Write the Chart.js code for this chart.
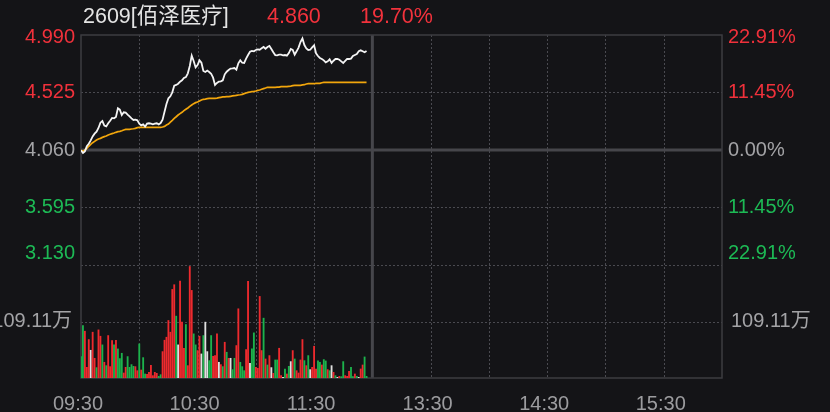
<!DOCTYPE html>
<html>
<head>
<meta charset="utf-8">
<script src="https://cdn.jsdelivr.net/npm/chart.js@4.4.1/dist/chart.umd.min.js"></script>
<style>
  html, body { margin: 0; padding: 0; background: #141417; overflow: hidden; }
  #wrap { position: relative; width: 830px; height: 412px; }
  canvas { display: block; }
  .hd { position: absolute; top: 2px; font: 21.5px "Liberation Sans", Arial, "Noto Sans CJK SC", sans-serif; line-height: 28px; white-space: nowrap; }
</style>
</head>
<body>
<div id="wrap">
  <canvas id="chart" width="830" height="412"></canvas>
  <span class="hd" style="left:83px;color:#e4e4e4">2609[佰泽医疗]</span>
  <span class="hd" style="left:267px;color:#f2323c">4.860</span>
  <span class="hd" style="left:360px;color:#f2323c">19.70%</span>
</div>
<script>
// minute-by-minute intraday data, 09:30 onwards
const price = [
  4.057, 4.036, 4.049, 4.090, 4.111, 4.138, 4.170, 4.192, 4.208, 4.238,
  4.281, 4.294, 4.257, 4.251, 4.276, 4.297, 4.319, 4.316, 4.327, 4.397,
  4.386, 4.343, 4.365, 4.362, 4.346, 4.332, 4.316, 4.303, 4.305, 4.300,
  4.273, 4.259, 4.267, 4.249, 4.273, 4.276, 4.273, 4.267, 4.273, 4.276,
  4.267, 4.278, 4.305, 4.370, 4.432, 4.478, 4.494, 4.526, 4.580, 4.586,
  4.596, 4.613, 4.623, 4.642, 4.650, 4.680, 4.739, 4.823, 4.780, 4.728,
  4.747, 4.785, 4.766, 4.699, 4.691, 4.702, 4.691, 4.677, 4.645, 4.586,
  4.602, 4.613, 4.615, 4.623, 4.672, 4.693, 4.707, 4.718, 4.720, 4.723,
  4.710, 4.761, 4.785, 4.766, 4.764, 4.799, 4.828, 4.855, 4.861, 4.858,
  4.869, 4.874, 4.871, 4.882, 4.893, 4.879, 4.893, 4.901, 4.877, 4.850,
  4.828, 4.826, 4.831, 4.831, 4.826, 4.828, 4.823, 4.844, 4.877, 4.869,
  4.831, 4.858, 4.888, 4.933, 4.962, 4.909, 4.882, 4.869, 4.871, 4.890,
  4.906, 4.842, 4.820, 4.804, 4.796, 4.785, 4.769, 4.777, 4.793, 4.764,
  4.782, 4.796, 4.796, 4.790, 4.777, 4.764, 4.780, 4.796, 4.796, 4.799,
  4.820, 4.828, 4.836, 4.858, 4.866, 4.858, 4.850, 4.860
];

const avgPrice = [
  4.057, 4.049, 4.060, 4.073, 4.090, 4.106, 4.119, 4.130, 4.141, 4.149,
  4.154, 4.162, 4.168, 4.173, 4.181, 4.187, 4.192, 4.197, 4.203, 4.208,
  4.211, 4.216, 4.222, 4.227, 4.227, 4.227, 4.230, 4.232, 4.235, 4.241,
  4.243, 4.243, 4.243, 4.243, 4.243, 4.243, 4.243, 4.243, 4.243, 4.243,
  4.243, 4.243, 4.246, 4.251, 4.262, 4.270, 4.286, 4.300, 4.316, 4.329,
  4.343, 4.354, 4.365, 4.378, 4.389, 4.400, 4.413, 4.424, 4.435, 4.443,
  4.448, 4.456, 4.464, 4.470, 4.472, 4.475, 4.478, 4.478, 4.478, 4.478,
  4.480, 4.483, 4.486, 4.489, 4.489, 4.491, 4.491, 4.494, 4.497, 4.499,
  4.502, 4.505, 4.507, 4.510, 4.516, 4.521, 4.526, 4.529, 4.532, 4.534,
  4.537, 4.542, 4.545, 4.551, 4.556, 4.561, 4.567, 4.567, 4.567, 4.567,
  4.567, 4.569, 4.569, 4.572, 4.572, 4.572, 4.572, 4.575, 4.577, 4.580,
  4.583, 4.583, 4.583, 4.583, 4.586, 4.588, 4.594, 4.596, 4.596, 4.596,
  4.596, 4.599, 4.599, 4.599, 4.604, 4.607, 4.607, 4.607, 4.607, 4.607,
  4.607, 4.607, 4.607, 4.607, 4.607, 4.607, 4.607, 4.607, 4.607, 4.607,
  4.607, 4.607, 4.607, 4.607, 4.607, 4.607, 4.607, 4.607
];

// volume in 万 shares
const volume = [
  42.0, 102.0, 91.0, 21.3, 74.9, 54.2, 89.1, 38.7, 20.7, 93.6,
  81.3, 64.6, 31.0, 24.5, 82.6, 22.6, 73.0, 64.6, 73.6, 56.8,
  38.1, 48.4, 10.3, 21.3, 42.0, 21.3, 26.5, 23.2, 22.6, 14.8,
  66.5, 16.1, 40.0, 8.4, 7.7, 11.6, 25.2, 5.2, 11.6, 9.7,
  3.9, 7.1, 51.6, 73.6, 79.4, 111.7, 89.1, 171.7, 180.8, 120.1,
  64.6, 187.9, 108.5, 58.1, 103.9, 24.5, 216.0, 169.8, 85.9, 64.6,
  53.6, 81.3, 47.1, 82.6, 108.5, 51.6, 34.2, 82.6, 42.6, 43.9,
  85.9, 31.0, 26.5, 22.6, 69.7, 50.4, 38.7, 38.7, 16.8, 38.7,
  63.3, 134.3, 31.0, 22.6, 14.8, 55.5, 187.2, 29.1, 56.8, 87.8,
  21.3, 19.4, 158.2, 53.6, 116.2, 37.4, 25.8, 43.9, 20.7, 9.7,
  35.5, 35.5, 58.1, 5.2, 1.9, 18.1, 8.4, 23.2, 32.3, 53.6,
  37.4, 14.8, 10.3, 35.5, 74.9, 34.2, 24.5, 43.9, 16.8, 21.3,
  62.0, 18.1, 33.6, 31.0, 25.8, 36.2, 33.6, 16.8, 14.8, 24.5,
  11.6, 5.2, 1.9, 3.9, 3.2, 32.3, 5.2, 3.9, 13.6, 21.3,
  3.2, 8.4, 3.9, 1.9, 18.1, 25.8, 41.3, 3.9
];

// 1 = up (red), -1 = down (green), 0 = flat (white)
const volumeDir = [
  -1, -1, 1, 1, 1, 0, 1, 1, -1, 1,
  1, -1, 1, -1, 1, 1, 1, -1, 1, -1,
  -1, -1, 1, 1, -1, -1, -1, -1, 1, 1,
  -1, 1, -1, -1, 1, 1, 1, 1, 1, 1,
  -1, -1, 1, 1, 1, 1, 1, 1, 1, -1,
  0, 1, 1, 1, -1, 1, 1, 1, -1, -1,
  1, 1, 0, -1, 0, 0, -1, -1, 1, 1,
  1, 0, 1, -1, 1, -1, 1, 0, -1, -1,
  1, 1, -1, -1, -1, 1, 1, 0, -1, -1,
  1, 1, 1, 1, -1, 1, -1, 1, 0, 1,
  -1, -1, 1, 1, 0, -1, 1, -1, 0, 1,
  -1, 1, 1, 1, 1, -1, 1, -1, 0, 1,
  1, 1, -1, -1, 1, -1, -1, 1, -1, 0,
  1, -1, 0, 1, -1, -1, 1, 1, 1, -1,
  -1, 1, -1, 0, 1, 1, -1, -1
];

const timeTickVals = [0, 60, 120, 180, 240, 300];
const timeLabels = ['09:30', '10:30', '11:30', '13:30', '14:30', '15:30'];
const gridMinutes = [30, 60, 90, 120, 180, 210, 240, 270, 300];
const middayMinute = 150;
const totalMinutes = 330;

const priceTicks = [4.990, 4.525, 4.060, 3.595, 3.130];
const pctTicks = ['22.91%', '11.45%', '0.00%', '11.45%', '22.91%'];
const preClose = 4.060;
const volMax = 218.22;
const volTick = 109.11;
const volTickLabel = '109.11万';

const RED = '#f0313b';
const GREEN = '#1dba55';
const GRAY = '#a3a3a6';
const tickColors = [RED, RED, GRAY, GREEN, GREEN];
const barColor = { '1': '#ee2a2e', '-1': '#1cb34c', '0': '#e0e0e0' };
const FONT = '"Liberation Sans", Arial, "Noto Sans CJK SC", sans-serif';

Chart.defaults.font.family = FONT;

// grid lines and panel borders
const panelGrid = {
  id: 'panelGrid',
  beforeDatasetsDraw(chart) {
    const { ctx, chartArea: a, scales: { x, price: py, vol } } = chart;
    ctx.save();
    ctx.strokeStyle = '#4a4a50';
    ctx.lineWidth = 1;
    ctx.setLineDash([2, 2]);
    gridMinutes.forEach(m => {
      const px = Math.round(x.getPixelForValue(m)) + 0.5;
      ctx.beginPath(); ctx.moveTo(px, a.top); ctx.lineTo(px, a.bottom); ctx.stroke();
    });
    [priceTicks[1], priceTicks[3], priceTicks[4]].forEach(v => {
      const y = Math.round(py.getPixelForValue(v)) + 0.5;
      ctx.beginPath(); ctx.moveTo(a.left, y); ctx.lineTo(a.right, y); ctx.stroke();
    });
    const vy = Math.round(vol.getPixelForValue(volTick)) + 0.5;
    ctx.beginPath(); ctx.moveTo(a.left, vy); ctx.lineTo(a.right, vy); ctx.stroke();
    ctx.setLineDash([]);

    // pre-close line and midday divider
    ctx.strokeStyle = '#46464b';
    ctx.lineWidth = 3;
    const cy = py.getPixelForValue(preClose);
    ctx.beginPath(); ctx.moveTo(a.left, cy); ctx.lineTo(a.right, cy); ctx.stroke();
    const mx = x.getPixelForValue(middayMinute);
    ctx.beginPath(); ctx.moveTo(mx, a.top); ctx.lineTo(mx, a.bottom); ctx.stroke();

    // outer border
    ctx.strokeStyle = '#3c3c41';
    ctx.lineWidth = 1.5;
    ctx.strokeRect(a.left, a.top, a.right - a.left, a.bottom - a.top);
    ctx.restore();
  }
};

// price / percent / volume labels on both sides
const sideLabels = {
  id: 'sideLabels',
  afterDraw(chart) {
    const { ctx, chartArea: a, scales: { price: py, vol } } = chart;
    ctx.save();
    ctx.font = '20px ' + FONT;
    ctx.textBaseline = 'middle';
    priceTicks.forEach((v, i) => {
      let y = py.getPixelForValue(v);
      if (i === 0) y += 2;
      if (i === priceTicks.length - 1) y -= 12;
      ctx.fillStyle = tickColors[i];
      ctx.textAlign = 'right';
      ctx.fillText(v.toFixed(3), a.left - 6, y);
      ctx.textAlign = 'left';
      ctx.fillText(pctTicks[i], a.right + 6, y);
    });
    const vy = vol.getPixelForValue(volTick);
    ctx.fillStyle = GRAY;
    ctx.textAlign = 'right';
    ctx.fillText(volTickLabel, a.left - 9, vy);
    ctx.textAlign = 'left';
    ctx.fillText(volTickLabel, a.right + 9, vy);
    ctx.restore();
  }
};

const ctx = document.getElementById('chart').getContext('2d');

new Chart(ctx, {
  type: 'bar',
  data: {
    datasets: [
      {
        type: 'line',
        label: '价格',
        data: price.map((y, i) => ({ x: i, y })),
        yAxisID: 'price',
        borderColor: '#f4f4f4',
        borderWidth: 1.8,
        pointRadius: 0,
        tension: 0,
        order: 1
      },
      {
        type: 'line',
        label: '均价',
        data: avgPrice.map((y, i) => ({ x: i, y })),
        yAxisID: 'price',
        borderColor: '#f2a60c',
        borderWidth: 1.7,
        pointRadius: 0,
        tension: 0,
        order: 2
      },
      {
        type: 'bar',
        label: '成交量',
        data: volume.map((y, i) => ({ x: i, y })),
        yAxisID: 'vol',
        backgroundColor: volumeDir.map(d => barColor[d]),
        barPercentage: 1,
        categoryPercentage: 0.95,
        order: 3
      }
    ]
  },
  options: {
    responsive: false,
    animation: false,
    layout: { padding: { top: 35, right: 108, left: 0, bottom: 0 } },
    plugins: { legend: { display: false }, tooltip: { enabled: false } },
    scales: {
      x: {
        type: 'linear',
        min: 0,
        max: totalMinutes,
        offset: false,
        afterBuildTicks: s => { s.ticks = timeTickVals.map(v => ({ value: v })); },
        ticks: {
          callback: v => timeLabels[timeTickVals.indexOf(v)],
          color: '#9c9c9f',
          font: { size: 20 },
          maxRotation: 0,
          autoSkip: false,
          padding: 6,
          labelOffset: -3
        },
        grid: { display: false },
        border: { display: false },
        afterFit: s => { s.height = 34; }
      },
      // the stack places the later-defined axis on top, so volume comes first
      vol: {
        type: 'linear',
        position: 'left',
        stack: 'panel',
        stackWeight: 113,
        min: 0,
        max: volMax,
        ticks: { display: false },
        grid: { display: false },
        border: { display: false },
        afterFit: s => { s.width = 81; }
      },
      price: {
        type: 'linear',
        position: 'left',
        stack: 'panel',
        stackWeight: 230,
        min: priceTicks[priceTicks.length - 1],
        max: priceTicks[0],
        ticks: { display: false },
        grid: { display: false },
        border: { display: false },
        afterFit: s => { s.width = 81; }
      }
    }
  },
  plugins: [panelGrid, sideLabels]
});
</script>
</body>
</html>
